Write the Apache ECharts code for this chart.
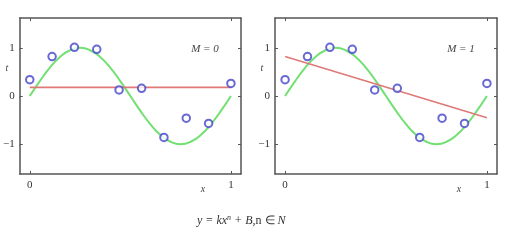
<!DOCTYPE html>
<html><head><meta charset="utf-8">
<script src="https://cdn.jsdelivr.net/npm/echarts@6/dist/echarts.min.js"></script>
<style>html,body{margin:0;padding:0;background:#fff}#c{width:520px;height:243px}</style>
</head><body><div id="c"></div>
<script>
// Data
const xPoints = [0, 0.111, 0.222, 0.333, 0.444, 0.556, 0.667, 0.778, 0.889, 1];
const tPoints = [0.34, 0.82, 1.01, 0.97, 0.125, 0.16, -0.86, -0.46, -0.57, 0.26];
const xCurve = [0, 0.05, 0.1, 0.15, 0.2, 0.25, 0.3, 0.35, 0.4, 0.45, 0.5, 0.55, 0.6, 0.65, 0.7, 0.75, 0.8, 0.85, 0.9, 0.95, 1];
const tCurve = [0, 0.31, 0.59, 0.81, 0.95, 1.0, 0.95, 0.81, 0.59, 0.31, 0, -0.31, -0.59, -0.81, -0.95, -1.0, -0.95, -0.81, -0.59, -0.31, 0];
const xFit = [0, 1];
const fitM0 = [0.18, 0.18];
const fitM1 = [0.82, -0.45];
const xTicks = [0, 1];
const yTicks = [-1, 0, 1];
const panelLabels = ['M = 0', 'M = 1'];
const formulaParts = ['y = kx', 'n', ' + B,', 'n ∈ ', 'N'];

const zip = (xs, ys) => xs.map((x, i) => [x, ys[i]]);
const FONT = 'Liberation Serif';
const lineCol = '#555';
const grids = [
  {left: 19, top: 18, width: 222, height: 156},
  {left: 275, top: 18, width: 222, height: 156}
];
const xAxes = [], yAxes = [], series = [];
grids.forEach((g, gi) => {
  const base = {
    type: 'value', gridIndex: gi,
    axisLine: {show: true, onZero: false, lineStyle: {color: lineCol, width: 1.5}},
    axisTick: {show: true, inside: true, length: 3, lineStyle: {color: lineCol, width: 1}},
    splitLine: {show: false}
  };
  ['bottom', 'top'].forEach((pos) => {
    xAxes.push(Object.assign({}, base, {
      position: pos, min: -0.05, max: 1.05,
      axisTick: Object.assign({}, base.axisTick, {customValues: xTicks}),
      axisLabel: pos === 'bottom'
        ? {show: true, customValues: xTicks, margin: 6, fontFamily: FONT, fontSize: 11, color: '#333'}
        : {show: false}
    }));
  });
  ['left', 'right'].forEach((pos) => {
    yAxes.push(Object.assign({}, base, {
      position: pos, min: -1.62, max: 1.62,
      axisTick: Object.assign({}, base.axisTick, {customValues: yTicks}),
      axisLabel: pos === 'left'
        ? {show: true, customValues: yTicks, margin: 5, fontFamily: FONT, fontSize: 11, color: '#333',
           formatter: v => v < 0 ? '\u2212' + Math.abs(v) : String(v)}
        : {show: false}
    }));
  });
  const xi = gi * 2, yi = gi * 2;
  series.push({
    type: 'line', xAxisIndex: xi, yAxisIndex: yi, data: zip(xCurve, tCurve),
    smooth: true, showSymbol: false, lineStyle: {color: '#72e072', width: 2}, z: 2
  });
  series.push({
    type: 'line', xAxisIndex: xi, yAxisIndex: yi, data: zip(xFit, gi === 0 ? fitM0 : fitM1),
    showSymbol: false, lineStyle: {color: '#e07878', width: 1.6}, z: 3
  });
  series.push({
    type: 'scatter', xAxisIndex: xi, yAxisIndex: yi, data: zip(xPoints, tPoints),
    symbol: 'emptyCircle', symbolSize: 7.5,
    itemStyle: {color: '#4444cc', borderColor: '#4444cc', borderWidth: 1.8}, z: 4
  });
});

const txt = (x, y, text, extra) => ({
  type: 'text', x, y,
  style: Object.assign({text, fontFamily: FONT, fontSize: 11, fill: '#444', align: 'center', verticalAlign: 'middle'}, extra || {})
});
const graphic = [
  txt(7, 68, 't', {fontStyle: 'italic', fontSize: 10}),
  txt(262, 68, 't', {fontStyle: 'italic', fontSize: 10}),
  txt(203, 189, 'x', {fontStyle: 'italic', fontSize: 10}),
  txt(459, 189, 'x', {fontStyle: 'italic', fontSize: 10}),
  txt(205, 49, panelLabels[0], {fontStyle: 'italic', fontSize: 11}),
  txt(461, 49, panelLabels[1], {fontStyle: 'italic', fontSize: 11}),
  {
    type: 'text', x: 197, y: 221,
    style: {
      text: '{i|' + formulaParts[0] + '}{s|' + formulaParts[1] + '}{i|' + formulaParts[2] + '}{u|' +
            formulaParts[3] + '}{i|' + formulaParts[4] + '}',
      verticalAlign: 'middle', fill: '#333',
      rich: {
        i: {fontFamily: FONT, fontStyle: 'italic', fontSize: 12, fill: '#333'},
        u: {fontFamily: FONT, fontSize: 12, fill: '#333'},
        s: {fontFamily: FONT, fontStyle: 'italic', fontSize: 8, fill: '#333', verticalAlign: 'top', padding: [0, 0, 6, 0]}
      }
    }
  }
];

const chart = echarts.init(document.getElementById('c'), null, {renderer: 'canvas'});
chart.setOption({
  backgroundColor: '#fff',
  animation: false,
  grid: grids,
  xAxis: xAxes,
  yAxis: yAxes,
  series,
  graphic
});
</script></body></html>
